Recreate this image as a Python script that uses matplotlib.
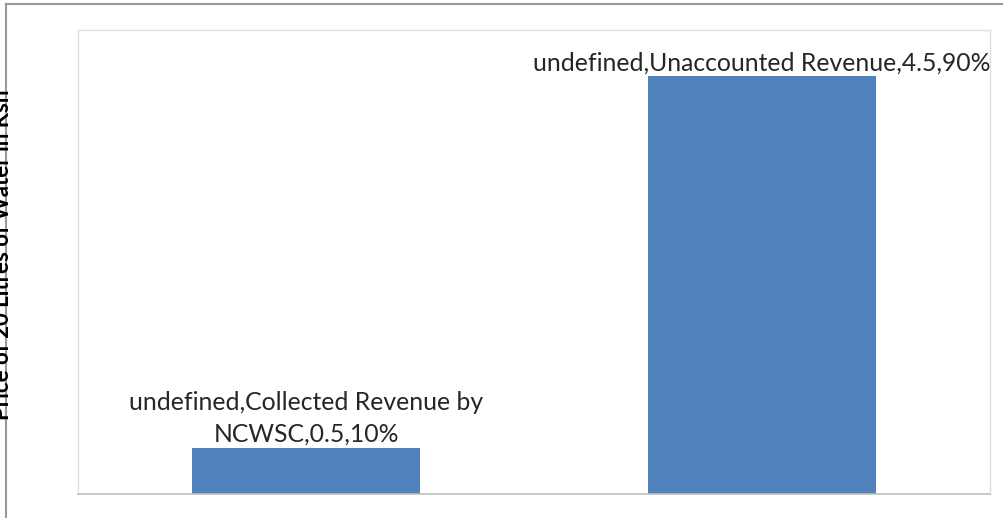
import matplotlib.pyplot as plt
from matplotlib.lines import Line2D

categories = ["Collected Revenue by\nNCWSC", "Unaccounted Revenue"]
values = [0.5, 4.5]
percents = ["10%", "90%"]
ylabel = "Price of 20 Litres of Water in Ksh"

W, H = 1005, 518
fig = plt.figure(figsize=(W / 100, H / 100), dpi=100)
ax = fig.add_axes([78 / W, 1 - 494 / H, (990 - 78) / W, (494 - 30) / H])

x = range(len(categories))
bars = ax.bar(x, values, width=0.5, color="#4F81BD")
ax.set_xlim(-0.5, 1.5)
ax.set_ylim(0, 5)
ax.set_xticks([])
ax.set_yticks([])

for spine in ["top", "left", "right"]:
    ax.spines[spine].set_color("#e0e0e0")
    ax.spines[spine].set_linewidth(1.0)
ax.spines["bottom"].set_color("#c0c0c0")
ax.spines["bottom"].set_linewidth(1.2)

for bar, cat, v, p in zip(bars, categories, values, percents):
    label = f"undefined,{cat},{v},{p}"
    ax.annotate(label, (bar.get_x() + bar.get_width() / 2, v),
                xytext=(0, 1.5), textcoords="offset points",
                ha="center", va="bottom", fontsize=17.8, family="Lato",
                color="#262626", linespacing=1.45)

# clipped y-axis title at the left edge
fig.text(3 / W, 1 - 255 / H, ylabel, rotation=90, ha="center", va="center",
         fontsize=16, fontweight="bold", family="Lato", color="black")

# outer frame (top and left edges of the screenshot)
fig.add_artist(Line2D([6 / W, 1002 / W], [1 - 4 / H, 1 - 4 / H],
                      transform=fig.transFigure, color="#9a9a9a", lw=1.5))
fig.add_artist(Line2D([6 / W, 6 / W], [1 - 4 / H, 0],
                      transform=fig.transFigure, color="#9a9a9a", lw=1.5))

fig.savefig("out.png", dpi=100)
